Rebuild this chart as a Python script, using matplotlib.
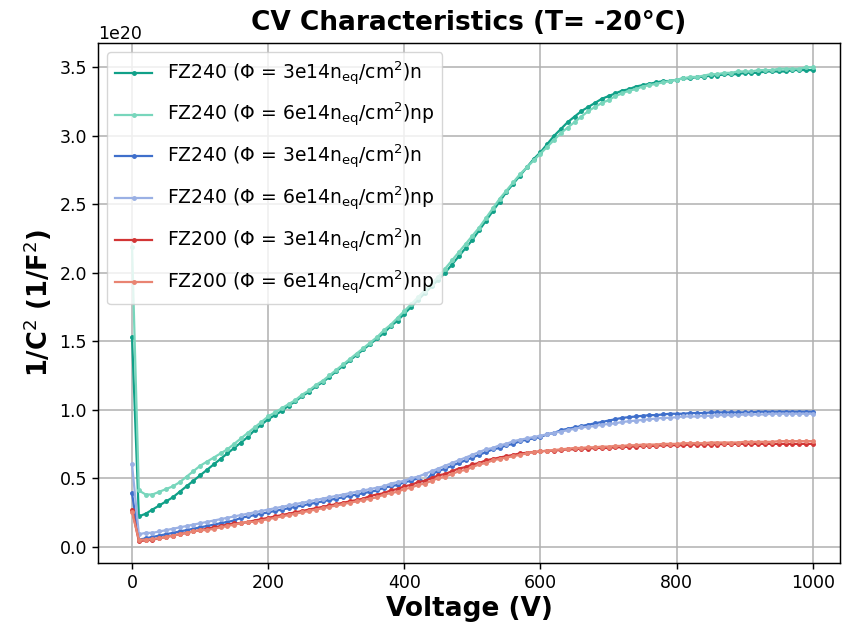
import matplotlib
matplotlib.use("Agg")
import matplotlib.pyplot as plt

# bias voltage (V), measured every 10 V
voltage = list(range(0, 1010, 10))

# 1/C^2 values in units of 1e20 1/F^2
fz240_3e14_n = [
    1.53, 0.22, 0.24, 0.27, 0.30, 0.33, 0.36, 0.40, 0.44, 0.48, 0.52,
    0.56, 0.60, 0.64, 0.68, 0.72, 0.76, 0.80, 0.85, 0.89, 0.93,
    0.96, 0.99, 1.03, 1.06, 1.10, 1.13, 1.17, 1.20, 1.24, 1.28,
    1.32, 1.36, 1.40, 1.44, 1.48, 1.52, 1.56, 1.61, 1.65, 1.70,
    1.75, 1.80, 1.85, 1.90, 1.95, 2.00, 2.06, 2.12, 2.18, 2.24,
    2.31, 2.38, 2.45, 2.52, 2.59, 2.65, 2.71, 2.77, 2.83, 2.88,
    2.94, 3.00, 3.05, 3.10, 3.14, 3.18, 3.21, 3.24, 3.27, 3.29,
    3.31, 3.33, 3.34, 3.36, 3.37, 3.38, 3.39, 3.40, 3.40, 3.41,
    3.42, 3.42, 3.43, 3.43, 3.44, 3.44, 3.45, 3.45, 3.45, 3.46,
    3.46, 3.46, 3.47, 3.47, 3.47, 3.47, 3.48, 3.48, 3.48, 3.48,
]
fz240_6e14_np = [
    2.19, 0.41, 0.38, 0.38, 0.40, 0.42, 0.44, 0.47, 0.51, 0.55, 0.59,
    0.62, 0.65, 0.68, 0.71, 0.75, 0.79, 0.83, 0.87, 0.91, 0.95,
    0.98, 1.01, 1.04, 1.07, 1.11, 1.14, 1.18, 1.21, 1.25, 1.29,
    1.33, 1.37, 1.41, 1.45, 1.49, 1.53, 1.58, 1.62, 1.67, 1.72,
    1.77, 1.82, 1.87, 1.92, 1.97, 2.03, 2.09, 2.15, 2.21, 2.27,
    2.33, 2.40, 2.47, 2.54, 2.60, 2.66, 2.72, 2.77, 2.82, 2.87,
    2.92, 2.97, 3.02, 3.06, 3.10, 3.14, 3.18, 3.21, 3.24, 3.26,
    3.29, 3.31, 3.33, 3.34, 3.36, 3.37, 3.38, 3.39, 3.40, 3.41,
    3.42, 3.43, 3.43, 3.44, 3.45, 3.45, 3.46, 3.46, 3.47, 3.47,
    3.47, 3.48, 3.48, 3.48, 3.49, 3.49, 3.49, 3.49, 3.50, 3.50,
]
fz240b_3e14_n = [
    0.39, 0.05, 0.06, 0.07, 0.08, 0.09, 0.10, 0.11, 0.12, 0.13, 0.14,
    0.15, 0.16, 0.17, 0.18, 0.19, 0.21, 0.22, 0.23, 0.24, 0.25,
    0.26, 0.27, 0.28, 0.29, 0.30, 0.31, 0.32, 0.33, 0.34, 0.35,
    0.36, 0.37, 0.38, 0.39, 0.40, 0.41, 0.43, 0.44, 0.45, 0.47,
    0.48, 0.50, 0.47, 0.53, 0.55, 0.57, 0.59, 0.61, 0.63, 0.65,
    0.67, 0.69, 0.71, 0.72, 0.74, 0.75, 0.77, 0.78, 0.79, 0.80,
    0.82, 0.83, 0.85, 0.86, 0.87, 0.88, 0.89, 0.90, 0.91, 0.92,
    0.93, 0.94, 0.945, 0.95, 0.955, 0.96, 0.96, 0.965, 0.97, 0.97,
    0.97, 0.975, 0.975, 0.975, 0.98, 0.98, 0.98, 0.98, 0.98, 0.98,
    0.98, 0.985, 0.985, 0.985, 0.985, 0.985, 0.985, 0.985, 0.985, 0.985,
]
fz240b_6e14_np = [
    0.60, 0.09, 0.10, 0.10, 0.11, 0.12, 0.13, 0.14, 0.15, 0.16, 0.17,
    0.18, 0.19, 0.20, 0.21, 0.22, 0.23, 0.24, 0.25, 0.26, 0.27,
    0.28, 0.29, 0.30, 0.31, 0.32, 0.33, 0.34, 0.35, 0.36, 0.37,
    0.38, 0.39, 0.40, 0.41, 0.42, 0.43, 0.44, 0.46, 0.47, 0.48,
    0.50, 0.51, 0.53, 0.55, 0.57, 0.59, 0.61, 0.63, 0.65, 0.67,
    0.69, 0.71, 0.72, 0.74, 0.75, 0.77, 0.78, 0.79, 0.80, 0.81,
    0.82, 0.83, 0.84, 0.85, 0.86, 0.87, 0.875, 0.88, 0.89, 0.895,
    0.90, 0.91, 0.915, 0.92, 0.925, 0.93, 0.935, 0.94, 0.94, 0.945,
    0.95, 0.95, 0.95, 0.955, 0.955, 0.96, 0.96, 0.96, 0.96, 0.965,
    0.965, 0.965, 0.965, 0.97, 0.97, 0.97, 0.97, 0.97, 0.97, 0.97,
]
fz200_3e14_n = [
    0.27, 0.04, 0.045, 0.05, 0.06, 0.07, 0.08, 0.09, 0.10, 0.11, 0.12,
    0.13, 0.14, 0.15, 0.16, 0.17, 0.17, 0.18, 0.19, 0.20, 0.21,
    0.22, 0.23, 0.24, 0.25, 0.26, 0.27, 0.28, 0.29, 0.30, 0.31,
    0.32, 0.33, 0.34, 0.35, 0.37, 0.38, 0.39, 0.41, 0.42, 0.44,
    0.45, 0.47, 0.48, 0.50, 0.52, 0.53, 0.55, 0.57, 0.58, 0.60,
    0.61, 0.63, 0.64, 0.65, 0.66, 0.67, 0.68, 0.685, 0.69, 0.695,
    0.70, 0.70, 0.705, 0.71, 0.71, 0.715, 0.715, 0.72, 0.72, 0.72,
    0.725, 0.725, 0.73, 0.73, 0.735, 0.735, 0.735, 0.74, 0.74, 0.74,
    0.74, 0.745, 0.745, 0.745, 0.745, 0.745, 0.75, 0.75, 0.75, 0.75,
    0.75, 0.75, 0.75, 0.75, 0.75, 0.75, 0.75, 0.75, 0.75, 0.75,
]
fz200_6e14_np = [
    0.25, 0.05, 0.05, 0.055, 0.06, 0.07, 0.08, 0.09, 0.10, 0.11, 0.12,
    0.12, 0.13, 0.14, 0.15, 0.16, 0.17, 0.18, 0.18, 0.19, 0.20,
    0.21, 0.22, 0.23, 0.24, 0.25, 0.26, 0.27, 0.28, 0.29, 0.30,
    0.31, 0.32, 0.33, 0.34, 0.35, 0.36, 0.38, 0.39, 0.40, 0.42,
    0.43, 0.45, 0.46, 0.48, 0.50, 0.51, 0.53, 0.55, 0.56, 0.58,
    0.60, 0.61, 0.63, 0.64, 0.65, 0.66, 0.67, 0.68, 0.69, 0.695,
    0.70, 0.705, 0.71, 0.715, 0.72, 0.72, 0.725, 0.725, 0.73, 0.73,
    0.735, 0.735, 0.74, 0.74, 0.745, 0.745, 0.745, 0.75, 0.75, 0.75,
    0.755, 0.755, 0.755, 0.755, 0.76, 0.76, 0.76, 0.76, 0.76, 0.765,
    0.765, 0.765, 0.765, 0.765, 0.77, 0.77, 0.77, 0.77, 0.77, 0.77,
]

series = [fz240_3e14_n, fz240_6e14_np, fz240b_3e14_n,
          fz240b_6e14_np, fz200_3e14_n, fz200_6e14_np]
labels = [
    r"FZ240 ($\Phi$ = 3e14n$_{\rm eq}$/cm$^2$)n",
    r"FZ240 ($\Phi$ = 6e14n$_{\rm eq}$/cm$^2$)np",
    r"FZ240 ($\Phi$ = 3e14n$_{\rm eq}$/cm$^2$)n",
    r"FZ240 ($\Phi$ = 6e14n$_{\rm eq}$/cm$^2$)np",
    r"FZ200 ($\Phi$ = 3e14n$_{\rm eq}$/cm$^2$)n",
    r"FZ200 ($\Phi$ = 6e14n$_{\rm eq}$/cm$^2$)np",
]
colors = ["#10a088", "#78d6bc", "#3f6fcb", "#9ab0e4", "#d23535", "#e98472"]

fig = plt.figure(figsize=(8.42, 6.32), dpi=100)
ax = fig.add_axes([0.1164, 0.1092, 0.8812, 0.8232])

for vals, lab, col in zip(series, labels, colors):
    ax.plot(voltage, [v * 1e20 for v in vals], marker='.', markersize=5,
            linewidth=1.6, color=col, label=lab)

ax.set_xlim(-50, 1040)
ax.set_ylim(-0.12e20, 3.68e20)
ax.grid(True, color='#b0b0b0', linewidth=1.1)
ax.set_axisbelow(True)
for s in ax.spines.values():
    s.set_linewidth(1.05)
ax.tick_params(labelsize=12.5, width=1.05, length=4.5)
ax.yaxis.get_offset_text().set_fontsize(12.5)

ax.set_title("CV Characteristics (T= -20°C)", fontsize=19, fontweight='bold', pad=9)
ax.set_xlabel("Voltage (V)", fontsize=19, fontweight='bold', labelpad=3)
ax.set_ylabel(r"1/C$^2$ (1/F$^2$)", fontsize=18.5, fontweight='bold')
ax.legend(loc='upper left', fontsize=13.5, labelspacing=0.74)

fig.savefig("out.png", dpi=100)
